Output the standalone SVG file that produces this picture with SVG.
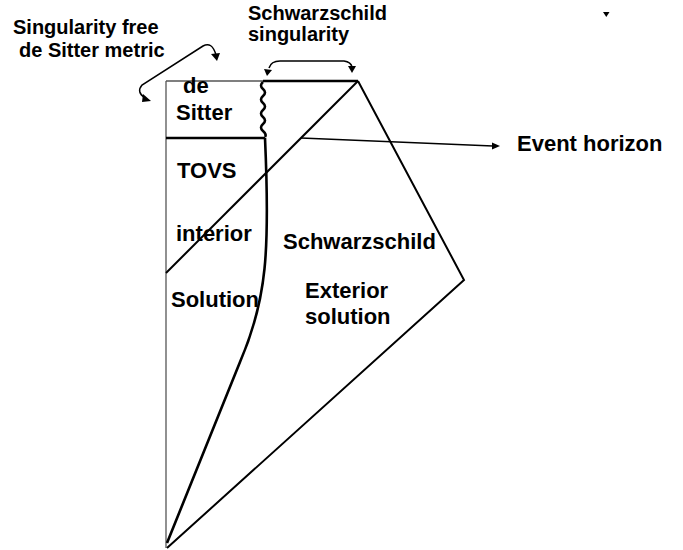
<svg xmlns="http://www.w3.org/2000/svg" width="683" height="550" viewBox="0 0 683 550">
<style>
text{font-family:"Liberation Sans",Arial,sans-serif;font-weight:bold;fill:#000}
.lbl{font-size:22px}
.top{font-size:20px}
.thin{fill:none;stroke:#555;stroke-width:1.3}
.thick{fill:none;stroke:#000;stroke-width:2.6}
.med{fill:none;stroke:#000;stroke-width:2}
.conn{fill:none;stroke:#000;stroke-width:1.5}
.head{fill:#000;stroke:none}
</style>
<rect width="683" height="550" fill="#fff"/>
<g id="diagram-shapes">
  <line class="thin" x1="166" y1="81" x2="166" y2="548"/>
  <line class="thin" x1="166" y1="81" x2="263" y2="81"/>
  <line class="thick" x1="263" y1="81" x2="358" y2="81"/>
  <line class="thick" x1="166" y1="138" x2="265" y2="138"/>
  <path class="thick" d="M263,82 q-4,3.5 0,7 q4,3.5 0,7 q-4,3.5 0,7 q4,3.5 0,7 q-4,3.5 0,7 q4,3.5 0,7 q-4,3.5 0,7 q4,3.5 2,6"/>
  <path class="thick" d="M265,138 C270,250 267,300 240,362 L167,543"/>
  <line class="med" x1="358" y1="81" x2="166" y2="273"/>
  <polyline class="med" points="358,81 464,280 167,548"/>
</g>
<g id="desitter"><text class="lbl" x="183" y="93">de</text><text class="lbl" x="176" y="120">Sitter</text></g>
<g id="tovs"><text class="lbl" x="177" y="178">TOVS</text><text class="lbl" x="176" y="241">interior</text><text class="lbl" x="171" y="307">Solution</text></g>
<g id="schwarzschild"><text class="lbl" x="283" y="249">Schwarzschild</text><text class="lbl" x="305" y="298">Exterior</text><text class="lbl" x="305" y="324">solution</text></g>
<g id="label-singfree"><text class="top" x="13" y="34">Singularity free</text><text class="top" x="19" y="57">de Sitter metric</text></g>
<g id="label-schsing"><text class="top" x="248" y="20">Schwarzschild</text><text class="top" x="248" y="41">singularity</text></g>
<g id="label-horizon"><text class="lbl" x="517" y="151">Event horizon</text></g>
<g id="connectors">
  <path class="conn" d="M216,55 Q212,41 203,46 L142,85 Q136,92 145,98"/>
  <polygon class="head" points="211,54 220,53 217,61"/>
  <polygon class="head" points="143,94 151,101 142,102"/>
  <path class="conn" d="M269,68 Q271,61 280,61 L344,61 Q351,62 352,67"/>
  <polygon class="head" points="264,69 272,70 267,76"/>
  <polygon class="head" points="348,66 356,66 352,73"/>
  <line class="conn" x1="301" y1="138" x2="493" y2="146"/>
  <polygon class="head" points="500,146 492,142.5 492,149.5"/>
  <polygon class="head" points="603,12 609.5,12 606.3,17"/>
</g>
</svg>
